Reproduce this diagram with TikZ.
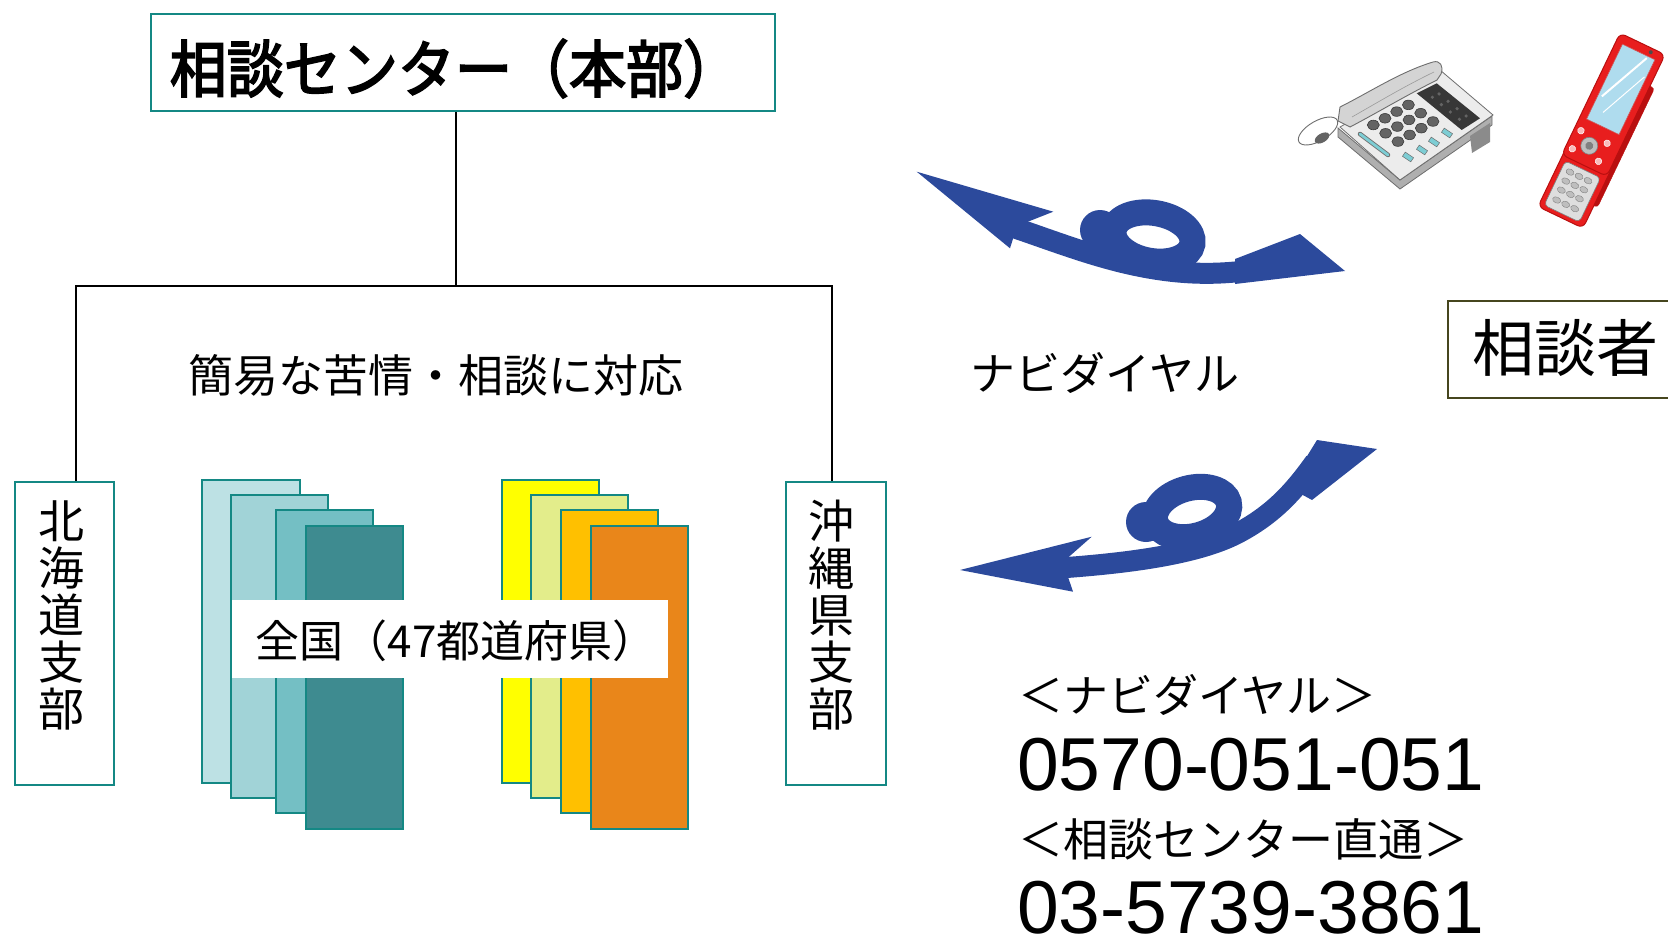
\documentclass[tikz,border=0pt]{standalone}
\usepackage{fontspec}
\usepackage{graphicx}
\setmainfont{Noto Sans CJK JP}
\newfontfamily\titlefont{Noto Sans CJK JP}[FakeBold=3]
\newfontfamily\numfont{Liberation Sans}

\definecolor{tealline}{RGB}{20,136,132}
\definecolor{sheetA}{RGB}{189,225,228}
\definecolor{sheetB}{RGB}{161,211,215}
\definecolor{sheetC}{RGB}{116,191,196}
\definecolor{sheetD}{RGB}{62,139,144}
\definecolor{yelA}{RGB}{255,255,0}
\definecolor{yelB}{RGB}{227,237,139}
\definecolor{yelC}{RGB}{255,192,0}
\definecolor{yelD}{RGB}{233,134,26}
\definecolor{arrowblue}{RGB}{44,74,156}
\definecolor{oliveline}{RGB}{70,70,30}
\definecolor{phonebody}{RGB}{236,236,236}
\definecolor{phoneedge}{RGB}{110,110,110}
\definecolor{phoneside}{RGB}{175,175,175}
\definecolor{keygray}{RGB}{100,100,100}
\definecolor{keyedge}{RGB}{60,60,60}
\definecolor{panelgray}{RGB}{55,55,55}
\definecolor{btnblue}{RGB}{125,205,212}
\definecolor{phonered}{RGB}{232,30,30}
\definecolor{phonereddark}{RGB}{185,15,15}
\definecolor{screenblue}{RGB}{175,220,238}
\definecolor{keypadgray}{RGB}{222,222,222}
\definecolor{lightkey}{RGB}{190,190,190}

\tikzset{
  every node/.style={inner sep=0pt},
  tealbox/.style={draw=tealline, line width=2pt, fill=white},
  sheet/.style={draw=tealline, line width=2pt, minimum width=97.5, minimum height=303},
  link/.style={draw=black, line width=1.6pt},
  jptext/.style={font=\fontsize{45}{47}\selectfont},
  jpvert/.style={font=\fontsize{46}{47}\selectfont, align=center},
  numtext/.style={font=\numfont\fontsize{75}{80}\selectfont},
}

\begin{document}
\begin{tikzpicture}[x=1pt, y=-1pt]
\useasboundingbox (0,0) rectangle (1668,939);
\clip (0,0) rectangle (1668,939);

% ---- head office and branch tree ----
\node[tealbox, minimum width=624, minimum height=97] (hq) at (463,62.5) {};
\node[font=\titlefont\fontsize{62}{70}\selectfont] (hqlabel) at (455,68.5)
  {\scalebox{0.92}[1]{相談センター（本部）}};

\node[tealbox, minimum width=99, minimum height=303] (hk) at (64.5,633.5) {};
\node[jpvert] (hklabel) at (61,615) {北\\海\\道\\支\\部};
\node[tealbox, minimum width=100, minimum height=303] (ok) at (836,633.5) {};
\node[jpvert] (oklabel) at (831,615) {沖\\縄\\県\\支\\部};

\coordinate (trunk) at (456,285.7);
\coordinate (leftend) at (76,285.7);
\coordinate (rightend) at (832,285.7);
\draw[link] (hq.south -| trunk) -- (trunk);
\draw[link] (hk.north -| leftend) |- (rightend) -- (ok.north -| rightend);

\node[jptext] (note) at (435.5,375) {簡易な苦情・相談に対応};

% ---- prefecture sheets ----
\node[sheet, fill=sheetA] (t1) at (251,631.9) {};
\node[sheet, fill=sheetB] (t2) at (279.3,646.5) {};
\node[sheet, fill=sheetC] (t3) at (324.3,661.9) {};
\node[sheet, fill=sheetD] (t4) at (354.3,677.4) {};
\node[sheet, fill=yelA] (y1) at (550.7,631.9) {};
\node[sheet, fill=yelB] (y2) at (579.5,646.5) {};
\node[sheet, fill=yelC] (y3) at (609.7,661.9) {};
\node[sheet, fill=yelD] (y4) at (639.5,677.4) {};
\node[fill=white, minimum width=436, minimum height=78] (prefbox) at (449.7,638.9) {};
\node[font=\fontsize{44}{46}\selectfont] (prefs) at (456,641) {全国（47都道府県）};

% ---- navi dial arrows ----
\fill[arrowblue] (916.7,171.7) -- (1053.3,211.7) -- (1017,226) -- (1010,248.3) -- cycle;
\draw[arrowblue, line width=21pt] (1015,228) .. controls (1080,250) and (1150,280) .. (1235,272) -- (1250,271);
\fill[arrowblue] (1235,259) -- (1300,234) -- (1345,271) -- (1235,284) -- cycle;
\draw[arrowblue, line width=26pt, rotate around={-10:(1153,237)}] (1153,237) ellipse [x radius=40, y radius=24];
\fill[arrowblue] (1100,230) circle (20);

\fill[arrowblue] (960,570) -- (1091.7,536.7) -- (1063,562) -- (1073,591.7) -- cycle;
\draw[arrowblue, line width=21pt] (1060,568) .. controls (1130,563) and (1200,554) .. (1240,532)
  .. controls (1275,513) and (1295,490) .. (1315,462);
\fill[arrowblue] (1288,487) -- (1317,440) -- (1377,449) -- (1312,500) -- cycle;
\draw[arrowblue, line width=26pt, rotate around={15:(1192,512)}] (1192,512) ellipse [x radius=38, y radius=24];
\fill[arrowblue] (1146,522) circle (20);

\node[jptext] (navi) at (1105,373) {ナビダイヤル};

% ---- desk telephone ----
\fill[phoneside, draw=phoneedge, line width=0.8pt] (1338,128) -- (1400,180) -- (1492,116) -- (1492,125) -- (1400,189) -- (1338,137) -- cycle;
\fill[phoneedge!80] (1470,136) -- (1490,123) -- (1490,142) -- (1472,153) -- cycle;
\filldraw[fill=phonebody, draw=phoneedge, line width=0.8pt] (1340,127) -- (1440,70) -- (1493,115) -- (1400,180) -- cycle;
\fill[panelgray] (1416.7,93.3) -- (1436.7,83.3) -- (1480,118.3) -- (1461.7,130) -- cycle;
\foreach \i in {1,...,4}{\foreach \j in {1,2}{
  \pgfmathsetmacro\dx{1416.7+\i*9+\j*6.67}
  \pgfmathsetmacro\dy{93.3+\i*7.34-\j*3.33}
  \fill[keygray] (\dx,\dy) circle (1.8);
}}
\foreach \i in {0,...,3}{\foreach \j in {0,1,2}{
  \pgfmathsetmacro\kx{1373.3+11.7*\i+12.3*\j}
  \pgfmathsetmacro\ky{125-6.7*\i+8.3*\j}
  \filldraw[fill=keygray, draw=keyedge, line width=0.6pt] (\kx,\ky) ellipse [x radius=6, y radius=4.8];
}}
\foreach \bx/\by in {1408/157, 1422/150, 1434/142, 1447/133}{
  \filldraw[fill=btnblue, draw=phoneedge, line width=0.5pt, rotate around={-34:(\bx,\by)}]
    (\bx-5,\by-2.5) rectangle (\bx+5,\by+2.5);
}
\draw[phoneedge, line width=4.5pt, line cap=round] (1360,134) -- (1388,155);
\draw[btnblue, line width=2.8pt, line cap=round] (1360,134) -- (1388,155);
\filldraw[fill=white, draw=phoneedge, line width=0.9pt, rotate around={30:(1318,131)}] (1318,131) ellipse [x radius=22, y radius=10];
\fill[keygray, rotate around={30:(1322,138)}] (1322,138) ellipse [x radius=8, y radius=4.5];
\filldraw[fill=phonebody!90!black, draw=phoneedge, line width=0.9pt]
  (1340,107) .. controls (1370,92) and (1400,72) .. (1433,62)
  .. controls (1440,60) and (1444,66) .. (1441,74) -- (1437,80)
  .. controls (1405,96) and (1375,114) .. (1350,127) -- (1338,121) -- cycle;
\draw[phoneedge!70, line width=0.6pt] (1352,117) .. controls (1380,101) and (1405,86) .. (1434,72);

% ---- mobile telephone (local frame: a across, b down the body) ----
\begin{scope}[shift={(1601.5,129.5)}, rotate=-25.6]
  \filldraw[fill=phonereddark, draw=phonereddark, rounded corners=3] (22,-60) rectangle (30,72);
  \filldraw[fill=phonered, draw=phonereddark, line width=1pt, rounded corners=6] (-24,30) rectangle (26,97);
  \filldraw[fill=keypadgray, draw=gray, line width=0.6pt, rounded corners=4] (-19,44) rectangle (20,93);
  \foreach \ka in {-10,0,10}{\foreach \kb in {52,62,72,83}{
    \filldraw[fill=lightkey, draw=gray, line width=0.4pt] (\ka,\kb) ellipse [x radius=4.2, y radius=3];
  }}
  \filldraw[fill=phonered, draw=phonereddark, line width=1pt, rounded corners=6] (-25,-95) rectangle (25,40);
  \filldraw[fill=screenblue, draw=phonereddark!70, line width=0.6pt] (-18,-86) rectangle (18,-3);
  \draw[white, line width=2pt] (-14,-30) -- (10,-84);
  \draw[white, line width=1pt] (-6,-16) -- (16,-66);
  \fill[black!70] (11,-91) circle (2);
  \filldraw[fill=lightkey, draw=gray, line width=0.6pt] (-4,20) circle (8.5);
  \fill[gray] (-4,20) circle (4);
  \foreach \sa/\sb in {-18/10, -18/30, 11/10, 11/30}{
    \filldraw[fill=white!70!phonered, draw=white, line width=0.5pt] (\sa,\sb) circle (3.3);
  }
\end{scope}

% ---- caller ----
\node[draw=oliveline, line width=2pt, fill=white, minimum width=260, minimum height=97, anchor=north west] (client) at (1447,300) {};
\node[font=\fontsize{62}{64}\selectfont] (clientlabel) at (1565.5,347.5) {相談者};

% ---- contact numbers ----
\node[jptext, anchor=west] (navihead) at (1018,695) {＜ナビダイヤル＞};
\node[numtext, anchor=base west] (navinum) at (1017,790) {0570-051-051};
\node[jptext, anchor=west] (directhead) at (1018,839) {＜相談センター直通＞};
\node[numtext, anchor=base west] (directnum) at (1017,933) {03-5739-3861};
\end{tikzpicture}
\end{document}
